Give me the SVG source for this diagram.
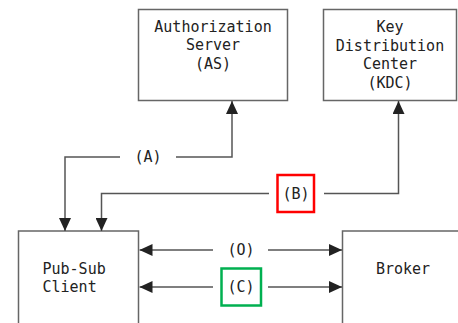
<svg xmlns="http://www.w3.org/2000/svg" width="458" height="323" viewBox="0 0 458 323">
<style>
.box{fill:#fff;stroke:#666;stroke-width:1.5}
.t{font-family:"DejaVu Sans Mono",monospace;font-size:15px;fill:#222}
.c{text-anchor:middle}
.ln{fill:none;stroke:#555;stroke-width:1.5}
</style>
<defs>
<marker id="ah" viewBox="0 0 13 12" refX="13" refY="6" markerWidth="13" markerHeight="12" markerUnits="userSpaceOnUse" orient="auto">
<path d="M0,0 L13,6 L0,12 Z" fill="#222"/>
</marker>
</defs>
<rect width="458" height="323" fill="#fff"/>
<g id="as">
<rect class="box" x="138.5" y="9.5" width="149" height="91"/>
<text class="t c" x="213" y="31.5">Authorization</text>
<text class="t c" x="213" y="50">Server</text>
<text class="t c" x="213" y="69">(AS)</text>
</g>
<g id="kdc">
<rect class="box" x="323.5" y="9.5" width="133" height="91"/>
<text class="t c" x="390" y="32">Key</text>
<text class="t c" x="390" y="50.5">Distribution</text>
<text class="t c" x="390" y="69">Center</text>
<text class="t c" x="390" y="87.5">(KDC)</text>
</g>
<g id="client">
<rect class="box" x="18.5" y="231" width="120" height="100"/>
<text class="t" x="42.5" y="273.5">Pub-Sub</text>
<text class="t" x="42.5" y="292">Client</text>
</g>
<g id="broker">
<rect class="box" x="342.5" y="231" width="120" height="100"/>
<text class="t c" x="403" y="273.5">Broker</text>
</g>
<g id="connectors">
<path class="ln" d="M176,157 H232 V101" marker-end="url(#ah)"/>
<path class="ln" d="M120,157 H65 V231" marker-end="url(#ah)"/>
<text class="t c" x="148" y="162">(A)</text>
<path class="ln" d="M324,193.5 H398.5 V101" marker-end="url(#ah)"/>
<path class="ln" d="M269,193.5 H101.5 V231" marker-end="url(#ah)"/>
<rect x="277.5" y="175" width="36.5" height="37" fill="none" stroke="#f00" stroke-width="2.5"/>
<text class="t c" x="296" y="198.5">(B)</text>
<path class="ln" d="M213,250 H139.5" marker-end="url(#ah)"/>
<path class="ln" d="M268,250 H342" marker-end="url(#ah)"/>
<text class="t c" x="241" y="255">(O)</text>
<path class="ln" d="M213,287 H139.5" marker-end="url(#ah)"/>
<path class="ln" d="M268,287 H342" marker-end="url(#ah)"/>
<rect x="221.5" y="268.5" width="39.5" height="37" fill="none" stroke="#00b050" stroke-width="2.5"/>
<text class="t c" x="241" y="292">(C)</text>
</g>
</svg>
